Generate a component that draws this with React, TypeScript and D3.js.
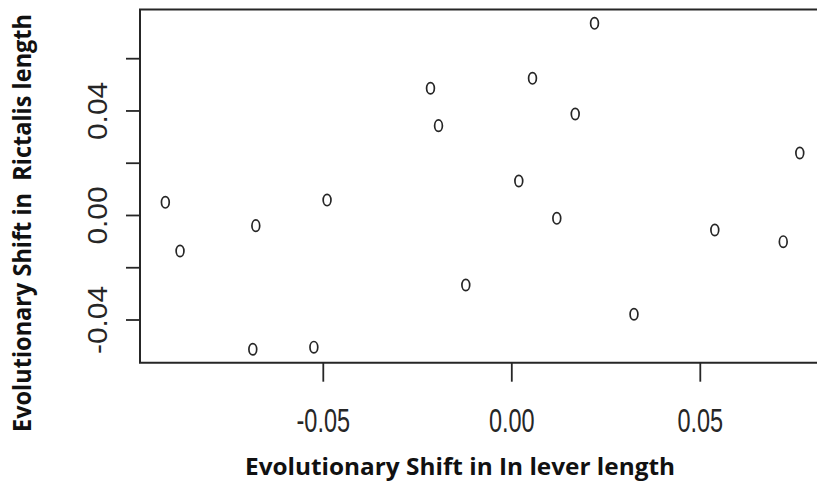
import React from "react";
import * as d3 from "d3";

const xValues = [-0.0919, -0.088, -0.0679, -0.0687, -0.049, -0.0525, -0.02157, -0.01944, -0.0122, 0.00186, 0.00549, 0.01194, 0.01682, 0.02194, 0.03241, 0.05385, 0.072, 0.07639];
const yValues = [0.00505, -0.01359, -0.0039, -0.0512, 0.0059, -0.0504, 0.0487, 0.03437, -0.0266, 0.0132, 0.0525, -0.00107, 0.03884, 0.07355, -0.0378, -0.00555, -0.01003, 0.02392];
const xTicks = [-0.05, 0, 0.05];
const xTickLabels = ["-0.05", "0.00", "0.05"];
const yTicks = [-0.04, -0.02, 0, 0.02, 0.04, 0.06];
const yLabeled = [-0.04, 0, 0.04];
const yLabelText = ["-0.04", "0.00", "0.04"];
const xTitle = "Evolutionary Shift in In lever length";
const yTitle = "Evolutionary Shift in  Rictalis length";

export default function App() {
  const x = d3.scaleLinear().domain([-0.05, 0.05]).range([323.3, 700.3]);
  const y = d3.scaleLinear().domain([-0.04, 0.06]).range([320, 58.7]);
  const left = 140, top = 9.5, bottom = 362.7;
  const ink = "#262626";
  const tickFont = "'Liberation Sans', Arial, sans-serif";
  const titleFont = "'Open Sans', 'Noto Sans', sans-serif";
  return (
    <svg width={817} height={487} style={{ position: "absolute", left: 0, top: 0, background: "#fff" }}>
      <rect x={0} y={0} width={817} height={487} fill="#fff" />
      {/* frame (right side cropped) */}
      <path d={`M830,${top}H${left}V${bottom}H830`} fill="none" stroke={ink} strokeWidth={2} />
      {/* y ticks */}
      {yTicks.map((t) => (
        <line key={"yt" + t} x1={left - 14} x2={left} y1={y(t)} y2={y(t)} stroke={ink} strokeWidth={1.8} />
      ))}
      {yLabeled.map((t, i) => (
        <text
          key={"yl" + t}
          transform={`translate(106.5,${y(t)}) rotate(-90)`}
          textAnchor="middle"
          fontFamily={tickFont}
          fontSize={27}
          fill={ink}
          textLength={yLabelText[i].length === 5 ? 68 : 58}
          lengthAdjust="spacingAndGlyphs"
        >
          {yLabelText[i]}
        </text>
      ))}
      {/* x ticks */}
      {xTicks.map((t) => (
        <line key={"xt" + t} x1={x(t)} x2={x(t)} y1={bottom} y2={381.7} stroke={ink} strokeWidth={1.8} />
      ))}
      {xTicks.map((t, i) => (
        <text
          key={"xl" + t}
          transform={`translate(${x(t)},431.5) scale(1,1.45)`}
          textAnchor="middle"
          fontFamily={tickFont}
          fontSize={23.5}
          fill={ink}
        >
          {xTickLabels[i]}
        </text>
      ))}
      {/* points */}
      {xValues.map((v, i) => (
        <ellipse key={"p" + i} cx={x(v)} cy={y(yValues[i])} rx={3.9} ry={5.7} fill="none" stroke={ink} strokeWidth={1.7} />
      ))}
      {/* titles */}
      <text
        x={460}
        y={475}
        textAnchor="middle"
        fontFamily={titleFont}
        fontWeight="bold"
        fontSize={23.5}
        fill="#111"
        textLength={430}
        lengthAdjust="spacingAndGlyphs"
      >
        {xTitle}
      </text>
      <text
        transform={`translate(31,223) rotate(-90) scale(1,1.3)`}
        textAnchor="middle"
        fontFamily={titleFont}
        fontWeight="bold"
        fontSize={19.3}
        fill="#111"
        textLength={418}
        lengthAdjust="spacingAndGlyphs"
        style={{ whiteSpace: "pre" }}
      >
        {yTitle}
      </text>
    </svg>
  );
}
